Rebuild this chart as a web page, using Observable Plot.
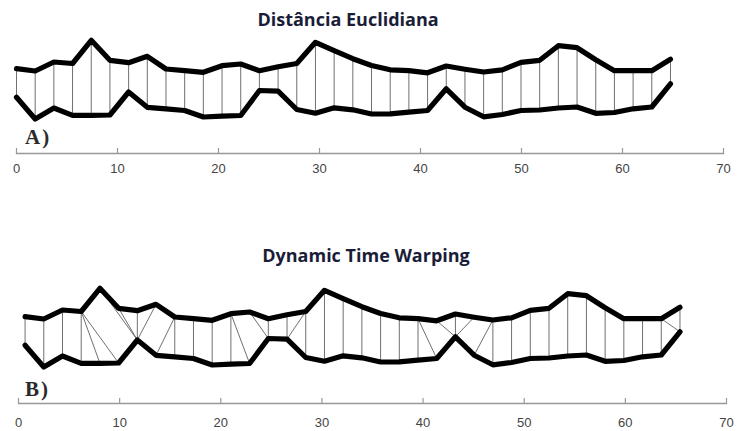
<!DOCTYPE html>
<html><head><meta charset="utf-8">
<script src="https://cdn.jsdelivr.net/npm/d3@7"></script>
<script src="https://cdn.jsdelivr.net/npm/@observablehq/plot@0.6"></script>
<style>
body{margin:0;background:#fff;}
#wrap{position:relative;width:740px;height:431px;overflow:hidden;background:#fff;}
.panel{position:absolute;left:0;}
.title{position:absolute;width:400px;text-align:center;font-family:"Open Sans",sans-serif;font-weight:700;font-size:18px;color:#1a1d38;line-height:24px;white-space:nowrap;}
.tag{position:absolute;left:25px;font-family:"Liberation Serif","Times New Roman",serif;font-weight:700;font-size:21px;color:#2b2b2b;line-height:24px;letter-spacing:2px;}
</style></head><body><div id="wrap"></div>
<script>
// tick labels
const xTicks = [0, 10, 20, 30, 40, 50, 60, 70];
// time positions of the samples (panel A and panel B)
const xA = [0, 1.85, 3.7, 5.55, 7.4, 9.25, 11.1, 12.95, 14.8, 16.65, 18.5, 20.35, 22.2, 24.05, 25.9, 27.75, 29.6, 31.45, 33.3, 35.15, 37, 38.85, 40.7, 42.55, 44.4, 46.25, 48.1, 49.95, 51.8, 53.65, 55.5, 57.35, 59.2, 61.05, 62.9, 64.75];
const xB = [0.65, 2.5, 4.35, 6.2, 8.05, 9.9, 11.75, 13.6, 15.45, 17.3, 19.15, 21, 22.85, 24.7, 26.55, 28.4, 30.25, 32.1, 33.95, 35.8, 37.65, 39.5, 41.35, 43.2, 45.05, 46.9, 48.75, 50.6, 52.45, 54.3, 56.15, 58, 59.85, 61.7, 63.55, 65.4];
// series values
const upper = [9.18, 8.95, 9.85, 9.7, 12.02, 10.02, 9.78, 10.42, 9.15, 8.98, 8.82, 9.48, 9.65, 8.98, 9.37, 9.7, 11.82, 10.98, 10.18, 9.5, 9.07, 8.98, 8.77, 9.45, 9.13, 8.85, 9.07, 9.82, 10.02, 11.48, 11.28, 10.07, 8.98, 8.98, 8.98, 10.12];
const lower = [6.32, 4.15, 5.25, 4.52, 4.52, 4.55, 6.85, 5.32, 5.17, 5.0, 4.35, 4.43, 4.5, 7.0, 6.93, 5.1, 4.73, 5.27, 5.07, 4.65, 4.67, 4.83, 5.0, 7.17, 5.33, 4.37, 4.6, 5.0, 5.05, 5.25, 5.35, 4.72, 4.8, 5.17, 5.35, 7.67];
// DTW warping path (index into upper, index into lower)
const dtwUpper = [0,1,2,3,3,3,4,5,6,7,8,8,9,10,11,11,12,13,14,15,15,16,17,18,19,20,21,21,22,23,24,25,25,26,27,28,29,30,31,32,33,34,34,35];
const dtwLower = [0,1,2,3,4,5,6,6,6,6,7,8,9,10,11,12,13,13,14,14,15,16,17,18,19,20,21,22,23,23,23,24,25,26,27,28,29,30,31,32,33,34,35,35];
const titles = ["Distância Euclidiana", "Dynamic Time Warping"];
const tags = ["A)", "B)"];

const wrap = document.getElementById("wrap");
const idx = d3.range(upper.length);

function panel({xs, pairsU, pairsL, top, height, marginBottom, marginLeft, marginRight, tickPadding}) {
  const pairs = pairsU.map((u, k) => ({u, l: pairsL[k]}));
  const plotH = height - marginBottom;
  const svg = Plot.plot({
    width: 740,
    height,
    marginTop: 0,
    marginBottom,
    marginLeft,
    marginRight,
    style: {background: "transparent", overflow: "visible", fontFamily: "'Liberation Sans', Arial, sans-serif", fontSize: "13px", color: "#444"},
    x: {domain: [0, 70], label: null},
    y: {domain: [0, 16], range: [160, 0], axis: null},
    marks: [
      Plot.frame({anchor: "bottom", stroke: "#999", strokeWidth: 1.3}),
      Plot.ruleX(xTicks, {x: d => d, insetTop: plotH - 5, stroke: "#999", strokeWidth: 1.2}),
      Plot.axisX({ticks: xTicks, tickSize: 0, tickPadding, tickFormat: d => String(d), fill: "#444", fontSize: 13, label: null}),
      Plot.link(pairs, {x1: d => xs[d.u], y1: d => upper[d.u], x2: d => xs[d.l], y2: d => lower[d.l], stroke: "#707070", strokeWidth: 1}),
      Plot.line(idx, {x: i => xs[i], y: i => upper[i], stroke: "#000", strokeWidth: 5.2, strokeLinejoin: "round"}),
      Plot.line(idx, {x: i => xs[i], y: i => lower[i], stroke: "#000", strokeWidth: 5.2, strokeLinejoin: "round"})
    ]
  });
  svg.classList.add("panel");
  svg.style.top = top + "px";
  wrap.appendChild(svg);
}

panel({xs: xA, pairsU: idx, pairsL: idx, top: 0, height: 180, marginBottom: 27, marginLeft: 16, marginRight: 17, tickPadding: 10});
panel({xs: xB, pairsU: dtwUpper, pairsL: dtwLower, top: 248, height: 183, marginBottom: 28, marginLeft: 18, marginRight: 14, tickPadding: 14});

function addDiv(cls, text, left, top) {
  const d = document.createElement("div");
  d.className = cls;
  d.textContent = text;
  d.style.left = left + "px";
  d.style.top = top + "px";
  wrap.appendChild(d);
}
addDiv("title", titles[0], 348 - 200, 6.5);
addDiv("title", titles[1], 366 - 200, 242.5);
addDiv("tag", tags[0], 25, 125);
addDiv("tag", tags[1], 25, 377);
</script>
</body></html>
